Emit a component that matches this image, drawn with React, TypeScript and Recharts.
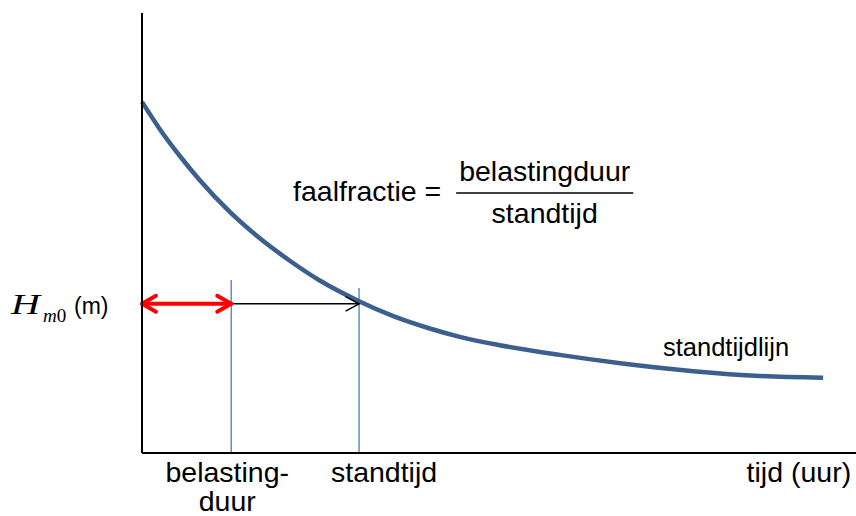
import { ComposedChart, Line, ReferenceDot, ReferenceLine, XAxis, YAxis } from "recharts";

// standtijdlijn (arbitrary units: tijd 0-100, Hm0 0-100)
const tijd = [0, 2.5, 5.3, 8.1, 12.3, 16.5, 20.7, 24.9, 30.4, 35.2, 40.3, 44.5, 50.1, 58.5, 67, 77.2, 86.6, 95.4];
const hm0 = [79.8, 73.6, 67.5, 62.0, 54.8, 48.8, 43.7, 39.2, 34.5, 31.1, 28.3, 26.4, 24.5, 22.3, 20.4, 18.6, 17.5, 17.1];

const belastingduur = 12.5;
const standtijd = 30.4;
const hm0Niveau = 33.9;
const lijnTop = [39.3, 37.5];

const xTicks = [belastingduur, standtijd, 92];
const xTickLabels = [["belasting-", "duur"], ["standtijd"], ["tijd (uur)"]];
const xTickShift = [-4, 25, 0];

const formule = { links: 44, rechts: 68.8, hoogte: 59.1 };
const lijnLabel = { x: 81.8, y: 24.1, tekst: "standtijdlijn" };

const data = tijd.map((t, i) => ({ tijd: t, hm0: hm0[i] }));

const FONT = "'Liberation Sans', Arial, sans-serif";
const SERIF = "'Liberation Serif', 'Times New Roman', serif";

function XTick(props: any) {
  const { x, y, index } = props;
  const lines = xTickLabels[index] ?? [];
  return (
    <text x={x + xTickShift[index]} y={y} textAnchor="middle" fontFamily={FONT} fontSize={28.5} fill="#000">
      {lines.map((l, i) => (
        <tspan key={i} x={x + xTickShift[index]} dy={i === 0 ? 21 : 29}>
          {l}
        </tspan>
      ))}
    </text>
  );
}

function YTick(props: any) {
  const { y } = props;
  return (
    <g>
      <text x={11} y={y + 10} fontFamily={SERIF} fontStyle="italic" fontWeight="normal" fontSize={29} fill="#000" textLength={29} lengthAdjust="spacingAndGlyphs">
        H
      </text>
      <text x={43} y={y + 18} fontFamily={SERIF} fontSize={19} fill="#000">
        <tspan fontStyle="italic">m</tspan>0
      </text>
      <text x={74} y={y + 10} fontFamily={FONT} fontSize={23} fill="#000">
        (m)
      </text>
    </g>
  );
}

function arrow(color: string, width: number, both: boolean, len: number, half: number) {
  return (props: any) => {
    const { x1, y1, x2, y2 } = props;
    return (
      <g fill="none" stroke={color} strokeWidth={width} strokeLinecap="round" strokeLinejoin="round">
        <line x1={x1} y1={y1} x2={x2} y2={y2} />
        <polyline points={`${x2 - len},${y2 - half} ${x2},${y2} ${x2 - len},${y2 + half}`} />
        {both && <polyline points={`${x1 + len},${y1 - half} ${x1},${y1} ${x1 + len},${y1 + half}`} />}
      </g>
    );
  };
}

function FormuleShape(props: any) {
  const { x1, y1, x2 } = props;
  const mid = (x1 + x2) / 2;
  return (
    <g fontFamily={FONT} fontSize={28.5} fill="#000">
      <line x1={x1} y1={y1} x2={x2} y2={y1} stroke="#000" strokeWidth={1.5} />
      <text x={x1 - 15} y={y1 + 8} textAnchor="end">
        faalfractie =
      </text>
      <text x={mid} y={y1 - 12} textAnchor="middle">
        belastingduur
      </text>
      <text x={mid} y={y1 + 30} textAnchor="middle">
        standtijd
      </text>
    </g>
  );
}

export default function App() {
  return (
    <div style={{ position: "fixed", left: 0, top: 0, background: "#fff" }}>
      <ComposedChart width={856} height={516} data={data} margin={{ top: 13, right: 0, bottom: 0, left: 0 }}>
        <XAxis
          dataKey="tijd"
          type="number"
          domain={[0, 100]}
          ticks={xTicks}
          tick={<XTick />}
          tickLine={false}
          height={63}
          axisLine={{ stroke: "#000", strokeWidth: 2 }}
          interval={0}
        />
        <YAxis
          type="number"
          domain={[0, 100]}
          ticks={[hm0Niveau]}
          tick={<YTick />}
          tickLine={false}
          width={142}
          axisLine={{ stroke: "#000", strokeWidth: 2 }}
        />
        <ReferenceLine
          segment={[{ x: belastingduur, y: 0 }, { x: belastingduur, y: lijnTop[0] }]}
          stroke="#5b8fd0"
          strokeWidth={1.5}
        />
        <ReferenceLine
          segment={[{ x: standtijd, y: 0 }, { x: standtijd, y: lijnTop[1] }]}
          stroke="#5b8fd0"
          strokeWidth={1.5}
        />
        <Line
          dataKey="hm0"
          type="monotone"
          stroke="#3c5f8e"
          strokeWidth={4.5}
          dot={false}
          isAnimationActive={false}
        />
        <ReferenceLine
          segment={[{ x: belastingduur, y: hm0Niveau }, { x: standtijd, y: hm0Niveau }]}
          shape={arrow("#000", 1.5, false, 13, 7)}
        />
        <ReferenceLine
          segment={[{ x: 0, y: hm0Niveau }, { x: belastingduur, y: hm0Niveau }]}
          shape={arrow("#ff0000", 4, true, 14, 8)}
        />
        <ReferenceLine
          segment={[{ x: formule.links, y: formule.hoogte }, { x: formule.rechts, y: formule.hoogte }]}
          shape={FormuleShape}
        />
        <ReferenceDot
          x={lijnLabel.x}
          y={lijnLabel.y}
          r={0}
          shape={(p: any) => (
            <text x={p.cx} y={p.cy + 9} textAnchor="middle" fontFamily={FONT} fontSize={25.5} fill="#000">
              {lijnLabel.tekst}
            </text>
          )}
        />
      </ComposedChart>
    </div>
  );
}
